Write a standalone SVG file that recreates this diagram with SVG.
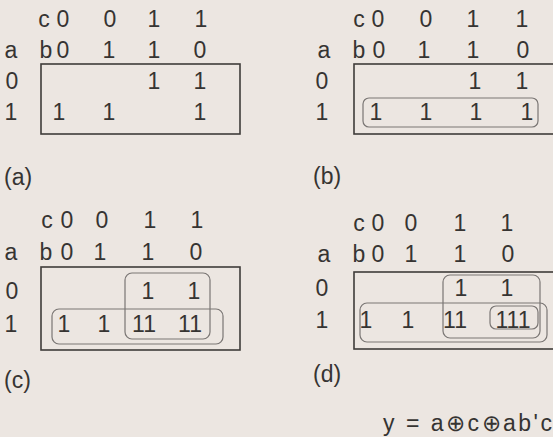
<svg xmlns="http://www.w3.org/2000/svg" width="553" height="437" viewBox="0 0 553 437">
<style>
text{font-family:"Liberation Sans",Arial,sans-serif;font-size:23px;fill:#363432;text-anchor:middle}
.l{text-anchor:start}
.box{fill:none;stroke:#3f3c3a;stroke-width:1.6}
.loop{fill:none;stroke:#7a7674;stroke-width:1.2}
</style>
<rect width="553" height="437" fill="#ece6e1"/>
<g id="panel-a">
<text x="44" y="27">c</text><text x="63" y="27">0</text><text x="110" y="27">0</text><text x="154" y="27">1</text><text x="201" y="27">1</text>
<text x="11" y="58">a</text><text x="46" y="58">b</text><text x="63" y="58">0</text><text x="109" y="58">1</text><text x="154" y="58">1</text><text x="200" y="58">0</text>
<rect class="box" x="41" y="64" width="199" height="70"/>
<text x="12" y="89">0</text><text x="154" y="89">1</text><text x="200" y="89">1</text>
<text x="11" y="120">1</text><text x="59" y="120">1</text><text x="109" y="120">1</text><text x="200" y="120">1</text>
<text class="l" x="4" y="185">(a)</text>
</g>
<g id="panel-b">
<text x="359" y="27">c</text><text x="378" y="27">0</text><text x="426" y="27">0</text><text x="473" y="27">1</text><text x="522" y="27">1</text>
<text x="324" y="58">a</text><text x="359" y="58">b</text><text x="379" y="58">0</text><text x="424" y="58">1</text><text x="473" y="58">1</text><text x="523" y="58">0</text>
<rect class="box" x="354" y="64" width="202" height="70"/>
<text x="322" y="89">0</text><text x="475" y="89">1</text><text x="522" y="89">1</text>
<text x="322" y="120">1</text><text x="376" y="120">1</text><text x="426" y="120">1</text><text x="476" y="120">1</text><text x="527" y="120">1</text>
<text class="l" x="313" y="184">(b)</text>
</g>
<g id="panel-c">
<text x="47" y="228">c</text><text x="67" y="228">0</text><text x="102" y="228">0</text><text x="150" y="228">1</text><text x="197" y="228">1</text>
<text x="11" y="260">a</text><text x="46" y="260">b</text><text x="67" y="260">0</text><text x="100" y="260">1</text><text x="148" y="260">1</text><text x="196" y="260">0</text>
<rect class="box" x="41" y="267" width="199" height="83"/>
<text x="12" y="299">0</text><text x="148" y="299">1</text><text x="194" y="299">1</text>
<text x="11" y="332">1</text><text x="64" y="332">1</text><text x="104" y="332">1</text><text x="144" y="332">11</text><text x="190" y="332">11</text>
<text class="l" x="4" y="388">(c)</text>
</g>
<g id="panel-d">
<text x="359" y="231">c</text><text x="378" y="231">0</text><text x="411" y="231">0</text><text x="460" y="231">1</text><text x="507" y="231">1</text>
<text x="324" y="262">a</text><text x="359" y="262">b</text><text x="378" y="262">0</text><text x="411" y="262">1</text><text x="460" y="262">1</text><text x="508" y="262">0</text>
<rect class="box" x="354" y="272" width="202" height="77"/>
<text x="322" y="296">0</text><text x="461" y="296">1</text><text x="507" y="296">1</text>
<text x="322" y="328">1</text><text x="366" y="328">1</text><text x="408" y="328">1</text><text x="455" y="328">11</text><text x="513" y="328">111</text>
<text class="l" x="313" y="382">(d)</text>
<text class="l" x="383" y="431" letter-spacing="2.5">y = a⊕c⊕ab'c</text>
</g>
<g id="connectors">
<rect class="loop" x="363" y="98" width="175" height="29" rx="6"/>
<rect class="loop" x="125" y="273" width="85" height="66" rx="7"/>
<rect class="loop" x="52" y="309" width="171" height="35" rx="7"/>
<rect class="loop" x="443" y="275" width="97" height="63" rx="7"/>
<rect class="loop" x="360" y="303" width="187" height="39" rx="7"/>
<rect class="loop" x="490" y="306" width="48" height="23" rx="6"/>
</g>
</svg>
